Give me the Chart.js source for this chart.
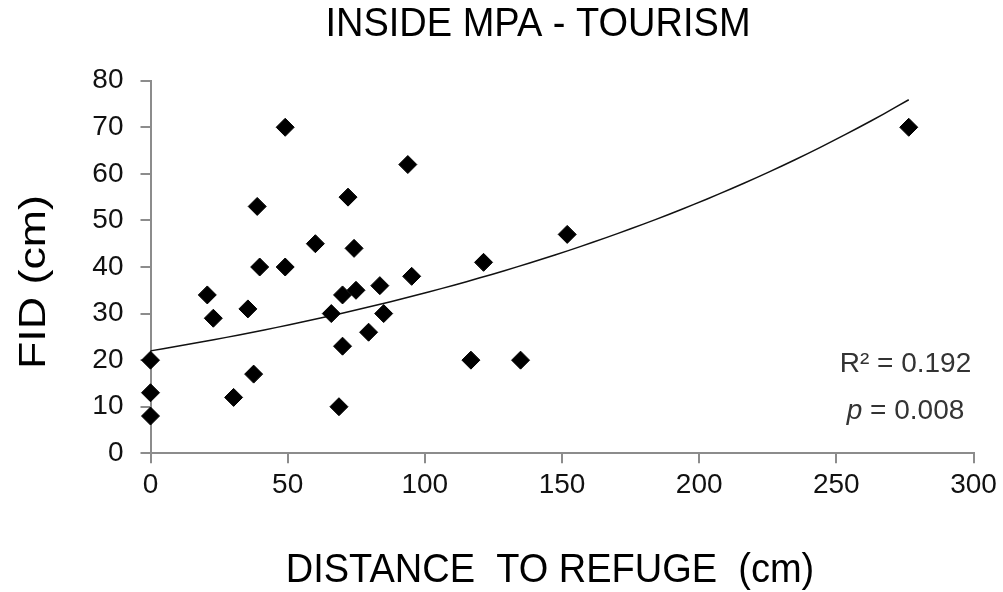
<!DOCTYPE html>
<html>
<head>
<meta charset="utf-8">
<title>Inside MPA - Tourism</title>
<script src="https://cdn.jsdelivr.net/npm/chart.js@4.4.1/dist/chart.umd.min.js"></script>
<style>
  html, body { margin: 0; padding: 0; background: #fff; }
</style>
</head>
<body>
<canvas id="chart" width="1003" height="592"></canvas>
<script>
// Distance to refuge (cm), one value per fish
const distance = [0, 0, 0, 20.7, 22.9, 30.3, 35.5, 37.6, 38.9, 39.8, 49.1, 49.1, 60.1, 65.9, 70, 70, 68.7, 72, 74.2, 74.9, 79.5, 83.6, 85, 93.8, 95.2, 116.8, 121.4, 134.9, 151.9, 276.4];
// Flight initiation distance (cm), same order
const fid = [20, 13, 8, 34, 29, 12, 31, 17, 53, 40, 70, 40, 45, 30, 34, 23, 10, 55, 44, 35, 26, 36, 30, 62, 38, 20, 41, 20, 47, 70];
const xTicks = [0, 50, 100, 150, 200, 250, 300];
const yTicks = [0, 10, 20, 30, 40, 50, 60, 70, 80];
const rSquared = '0.192';
const pValue = '0.008';

const FONT = '"Liberation Sans", Arial, sans-serif';
const AXIS_GREY = '#8c8c8c';

// Exponential trendline (least squares on ln y), like Excel's
function expFit(xs, ys) {
    const n = xs.length;
    const ly = ys.map(Math.log);
    const mx = xs.reduce((s, v) => s + v, 0) / n;
    const my = ly.reduce((s, v) => s + v, 0) / n;
    let sxy = 0, sxx = 0;
    xs.forEach((x, i) => {
        sxy += (x - mx) * (ly[i] - my);
        sxx += (x - mx) * (x - mx);
    });
    const b = sxy / sxx;
    return { a: Math.exp(my - b * mx), b };
}

const fit = expFit(distance, fid);
const maxX = Math.max(...distance);
const trend = [];
for (let i = 0; i <= 60; i++) {
    const x = maxX * i / 60;
    trend.push({ x: x, y: fit.a * Math.exp(fit.b * x) });
}

// Titles and the stats box
const textPlugin = {
    id: 'texts',
    afterDraw(chart) {
        const { ctx, chartArea } = chart;
        const cx = (chartArea.left + chartArea.right) / 2;
        ctx.save();
        ctx.fillStyle = '#000';
        ctx.textBaseline = 'middle';
        ctx.textAlign = 'center';
        ctx.font = '38px ' + FONT;

        // the original picture is slightly taller than wide
        ctx.save();
        ctx.translate(cx - 24, 25);
        ctx.scale(1, 1.07);
        ctx.fillText('INSIDE MPA - TOURISM', 0, 0);
        ctx.restore();

        ctx.save();
        ctx.translate(cx - 12, 571);
        ctx.scale(1, 1.07);
        ctx.fillText('DISTANCE  TO REFUGE  (cm)', 0, 0);
        ctx.restore();

        ctx.save();
        ctx.font = '37px ' + FONT;
        ctx.translate(35, (chartArea.top + chartArea.bottom) / 2 + 15);
        ctx.rotate(-Math.PI / 2);
        ctx.scale(1.21, 1);
        ctx.fillText('FID (cm)', 0, 0);
        ctx.restore();

        // R² and p
        const sx = chartArea.right - 68;
        ctx.fillStyle = '#333';
        ctx.textBaseline = 'alphabetic';
        ctx.font = '28px ' + FONT;
        ctx.fillText('R² = ' + rSquared, sx, 372);

        const rest = ' = ' + pValue;
        ctx.font = 'italic 28px ' + FONT;
        const pw = ctx.measureText('p').width;
        ctx.font = '28px ' + FONT;
        const rw = ctx.measureText(rest).width;
        const start = sx - (pw + rw) / 2;
        ctx.textAlign = 'left';
        ctx.font = 'italic 28px ' + FONT;
        ctx.fillText('p', start, 419);
        ctx.font = '28px ' + FONT;
        ctx.fillText(rest, start + pw, 419);
        ctx.restore();
    }
};

const ctx = document.getElementById('chart').getContext('2d');
new Chart(ctx, {
    type: 'scatter',
    data: {
        datasets: [
            {
                label: 'FID',
                data: distance.map((d, i) => ({ x: d, y: fid[i] })),
                pointStyle: 'rectRot',
                pointRadius: 9,
                backgroundColor: '#000',
                borderColor: '#000',
                borderWidth: 1,
                clip: false,
                order: 0
            },
            {
                type: 'line',
                label: 'Trend',
                data: trend,
                borderColor: '#111',
                borderWidth: 1.5,
                pointRadius: 0,
                fill: false,
                tension: 0,
                clip: false,
                order: 1
            }
        ]
    },
    options: {
        responsive: false,
        animation: false,
        devicePixelRatio: 1,
        layout: { padding: { top: 80.7, right: 29.5, left: 0, bottom: 0 } },
        plugins: {
            legend: { display: false },
            tooltip: { enabled: false },
            title: { display: false }
        },
        scales: {
            x: {
                type: 'linear',
                min: 0,
                max: 300,
                afterBuildTicks: (s) => { s.ticks = xTicks.map(v => ({ value: v })); },
                afterFit: (s) => { s.height = 138.7; },
                border: { color: AXIS_GREY, width: 2 },
                grid: { drawOnChartArea: false, drawTicks: true, tickLength: 10, color: AXIS_GREY, lineWidth: 2 },
                ticks: { color: '#111', padding: 5, maxRotation: 0, font: { family: FONT, size: 28 } }
            },
            y: {
                type: 'linear',
                min: 0,
                max: 80,
                afterBuildTicks: (s) => { s.ticks = yTicks.map(v => ({ value: v })); },
                afterFit: (s) => { s.width = 150.5; },
                border: { color: AXIS_GREY, width: 2 },
                grid: { drawOnChartArea: false, drawTicks: true, tickLength: 10, color: AXIS_GREY, lineWidth: 2 },
                ticks: { color: '#111', padding: 17, font: { family: FONT, size: 28 } }
            }
        }
    },
    plugins: [textPlugin]
});
</script>
</body>
</html>
